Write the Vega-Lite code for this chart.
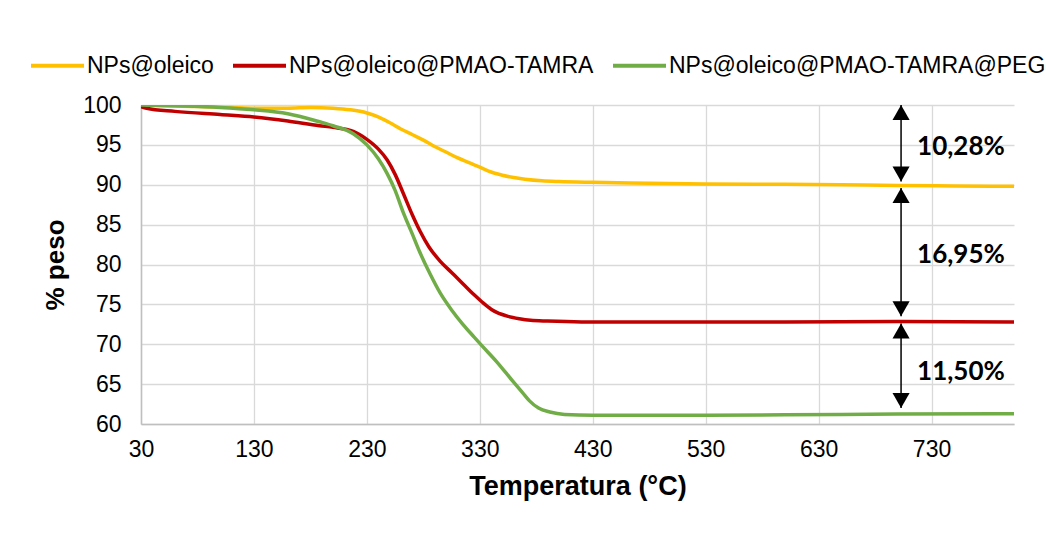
{
  "$schema": "https://vega.github.io/schema/vega-lite/v6.json",
  "width": 873,
  "height": 319,
  "autosize": {"type": "none"},
  "padding": {"left": 141, "top": 105, "right": 32, "bottom": 110},
  "background": "white",
  "config": {
    "view": {"stroke": null},
    "font": "Liberation Sans"
  },
  "datasets": {
    "tga": [
      {"T": 30, "w": 100.0, "s": "NPs@oleico"},
      {"T": 50, "w": 99.9, "s": "NPs@oleico"},
      {"T": 80, "w": 99.8, "s": "NPs@oleico"},
      {"T": 110, "w": 99.7, "s": "NPs@oleico"},
      {"T": 130, "w": 99.6, "s": "NPs@oleico"},
      {"T": 160, "w": 99.6, "s": "NPs@oleico"},
      {"T": 180, "w": 99.7, "s": "NPs@oleico"},
      {"T": 200, "w": 99.6, "s": "NPs@oleico"},
      {"T": 215, "w": 99.4, "s": "NPs@oleico"},
      {"T": 230, "w": 99.0, "s": "NPs@oleico"},
      {"T": 240, "w": 98.5, "s": "NPs@oleico"},
      {"T": 250, "w": 97.8, "s": "NPs@oleico"},
      {"T": 260, "w": 97.0, "s": "NPs@oleico"},
      {"T": 270, "w": 96.3, "s": "NPs@oleico"},
      {"T": 280, "w": 95.6, "s": "NPs@oleico"},
      {"T": 290, "w": 94.8, "s": "NPs@oleico"},
      {"T": 300, "w": 94.1, "s": "NPs@oleico"},
      {"T": 310, "w": 93.4, "s": "NPs@oleico"},
      {"T": 320, "w": 92.8, "s": "NPs@oleico"},
      {"T": 330, "w": 92.2, "s": "NPs@oleico"},
      {"T": 340, "w": 91.6, "s": "NPs@oleico"},
      {"T": 350, "w": 91.2, "s": "NPs@oleico"},
      {"T": 360, "w": 90.9, "s": "NPs@oleico"},
      {"T": 370, "w": 90.7, "s": "NPs@oleico"},
      {"T": 385, "w": 90.5, "s": "NPs@oleico"},
      {"T": 400, "w": 90.4, "s": "NPs@oleico"},
      {"T": 430, "w": 90.3, "s": "NPs@oleico"},
      {"T": 480, "w": 90.2, "s": "NPs@oleico"},
      {"T": 530, "w": 90.1, "s": "NPs@oleico"},
      {"T": 600, "w": 90.05, "s": "NPs@oleico"},
      {"T": 650, "w": 90.0, "s": "NPs@oleico"},
      {"T": 700, "w": 89.9, "s": "NPs@oleico"},
      {"T": 750, "w": 89.85, "s": "NPs@oleico"},
      {"T": 803, "w": 89.8, "s": "NPs@oleico"},

      {"T": 30, "w": 99.8, "s": "NPs@oleico@PMAO-TAMRA"},
      {"T": 35, "w": 99.6, "s": "NPs@oleico@PMAO-TAMRA"},
      {"T": 60, "w": 99.2, "s": "NPs@oleico@PMAO-TAMRA"},
      {"T": 100, "w": 98.8, "s": "NPs@oleico@PMAO-TAMRA"},
      {"T": 130, "w": 98.5, "s": "NPs@oleico@PMAO-TAMRA"},
      {"T": 160, "w": 98.0, "s": "NPs@oleico@PMAO-TAMRA"},
      {"T": 188, "w": 97.4, "s": "NPs@oleico@PMAO-TAMRA"},
      {"T": 200, "w": 97.2, "s": "NPs@oleico@PMAO-TAMRA"},
      {"T": 218, "w": 96.7, "s": "NPs@oleico@PMAO-TAMRA"},
      {"T": 230, "w": 95.7, "s": "NPs@oleico@PMAO-TAMRA"},
      {"T": 240, "w": 94.5, "s": "NPs@oleico@PMAO-TAMRA"},
      {"T": 248, "w": 93.1, "s": "NPs@oleico@PMAO-TAMRA"},
      {"T": 255, "w": 91.3, "s": "NPs@oleico@PMAO-TAMRA"},
      {"T": 262, "w": 89.0, "s": "NPs@oleico@PMAO-TAMRA"},
      {"T": 270, "w": 86.3, "s": "NPs@oleico@PMAO-TAMRA"},
      {"T": 277, "w": 84.2, "s": "NPs@oleico@PMAO-TAMRA"},
      {"T": 285, "w": 82.2, "s": "NPs@oleico@PMAO-TAMRA"},
      {"T": 295, "w": 80.4, "s": "NPs@oleico@PMAO-TAMRA"},
      {"T": 305, "w": 79.0, "s": "NPs@oleico@PMAO-TAMRA"},
      {"T": 315, "w": 77.6, "s": "NPs@oleico@PMAO-TAMRA"},
      {"T": 325, "w": 76.2, "s": "NPs@oleico@PMAO-TAMRA"},
      {"T": 332, "w": 75.3, "s": "NPs@oleico@PMAO-TAMRA"},
      {"T": 340, "w": 74.4, "s": "NPs@oleico@PMAO-TAMRA"},
      {"T": 345, "w": 74.0, "s": "NPs@oleico@PMAO-TAMRA"},
      {"T": 355, "w": 73.5, "s": "NPs@oleico@PMAO-TAMRA"},
      {"T": 365, "w": 73.2, "s": "NPs@oleico@PMAO-TAMRA"},
      {"T": 375, "w": 73.0, "s": "NPs@oleico@PMAO-TAMRA"},
      {"T": 390, "w": 72.9, "s": "NPs@oleico@PMAO-TAMRA"},
      {"T": 420, "w": 72.8, "s": "NPs@oleico@PMAO-TAMRA"},
      {"T": 500, "w": 72.8, "s": "NPs@oleico@PMAO-TAMRA"},
      {"T": 600, "w": 72.8, "s": "NPs@oleico@PMAO-TAMRA"},
      {"T": 700, "w": 72.85, "s": "NPs@oleico@PMAO-TAMRA"},
      {"T": 803, "w": 72.8, "s": "NPs@oleico@PMAO-TAMRA"},

      {"T": 30, "w": 100.0, "s": "NPs@oleico@PMAO-TAMRA@PEG"},
      {"T": 60, "w": 99.9, "s": "NPs@oleico@PMAO-TAMRA@PEG"},
      {"T": 100, "w": 99.7, "s": "NPs@oleico@PMAO-TAMRA@PEG"},
      {"T": 130, "w": 99.4, "s": "NPs@oleico@PMAO-TAMRA@PEG"},
      {"T": 160, "w": 98.9, "s": "NPs@oleico@PMAO-TAMRA@PEG"},
      {"T": 188, "w": 97.9, "s": "NPs@oleico@PMAO-TAMRA@PEG"},
      {"T": 200, "w": 97.4, "s": "NPs@oleico@PMAO-TAMRA@PEG"},
      {"T": 218, "w": 96.4, "s": "NPs@oleico@PMAO-TAMRA@PEG"},
      {"T": 230, "w": 95.0, "s": "NPs@oleico@PMAO-TAMRA@PEG"},
      {"T": 240, "w": 93.3, "s": "NPs@oleico@PMAO-TAMRA@PEG"},
      {"T": 248, "w": 91.4, "s": "NPs@oleico@PMAO-TAMRA@PEG"},
      {"T": 255, "w": 89.3, "s": "NPs@oleico@PMAO-TAMRA@PEG"},
      {"T": 262, "w": 86.6, "s": "NPs@oleico@PMAO-TAMRA@PEG"},
      {"T": 270, "w": 83.9, "s": "NPs@oleico@PMAO-TAMRA@PEG"},
      {"T": 277, "w": 81.5, "s": "NPs@oleico@PMAO-TAMRA@PEG"},
      {"T": 286, "w": 78.8, "s": "NPs@oleico@PMAO-TAMRA@PEG"},
      {"T": 295, "w": 76.4, "s": "NPs@oleico@PMAO-TAMRA@PEG"},
      {"T": 305, "w": 74.3, "s": "NPs@oleico@PMAO-TAMRA@PEG"},
      {"T": 315, "w": 72.5, "s": "NPs@oleico@PMAO-TAMRA@PEG"},
      {"T": 325, "w": 70.9, "s": "NPs@oleico@PMAO-TAMRA@PEG"},
      {"T": 332, "w": 69.8, "s": "NPs@oleico@PMAO-TAMRA@PEG"},
      {"T": 345, "w": 67.8, "s": "NPs@oleico@PMAO-TAMRA@PEG"},
      {"T": 359, "w": 65.4, "s": "NPs@oleico@PMAO-TAMRA@PEG"},
      {"T": 368, "w": 63.9, "s": "NPs@oleico@PMAO-TAMRA@PEG"},
      {"T": 374, "w": 62.9, "s": "NPs@oleico@PMAO-TAMRA@PEG"},
      {"T": 382, "w": 62.0, "s": "NPs@oleico@PMAO-TAMRA@PEG"},
      {"T": 392, "w": 61.5, "s": "NPs@oleico@PMAO-TAMRA@PEG"},
      {"T": 405, "w": 61.2, "s": "NPs@oleico@PMAO-TAMRA@PEG"},
      {"T": 430, "w": 61.1, "s": "NPs@oleico@PMAO-TAMRA@PEG"},
      {"T": 500, "w": 61.1, "s": "NPs@oleico@PMAO-TAMRA@PEG"},
      {"T": 600, "w": 61.15, "s": "NPs@oleico@PMAO-TAMRA@PEG"},
      {"T": 700, "w": 61.25, "s": "NPs@oleico@PMAO-TAMRA@PEG"},
      {"T": 803, "w": 61.3, "s": "NPs@oleico@PMAO-TAMRA@PEG"}
    ],
    "arrows": [
      {"T": 703, "w": 100, "w2": 90.4},
      {"T": 703, "w": 89.6, "w2": 73.5},
      {"T": 703, "w": 72.6, "w2": 62.0}
    ],
    "heads": [
      {"T": 703, "w": 100, "dir": "up"},
      {"T": 703, "w": 90.4, "dir": "down"},
      {"T": 703, "w": 89.6, "dir": "up"},
      {"T": 703, "w": 73.5, "dir": "down"},
      {"T": 703, "w": 72.6, "dir": "up"},
      {"T": 703, "w": 62.0, "dir": "down"}
    ],
    "labels": [
      {"T": 756, "w": 94.7, "txt": "10,28%"},
      {"T": 756, "w": 81.2, "txt": "16,95%"},
      {"T": 756, "w": 66.5, "txt": "11,50%"}
    ]
  },
  "encoding": {
    "x": {
      "field": "T", "type": "quantitative",
      "scale": {"domain": [30, 803], "nice": false, "zero": false},
      "axis": {
        "values": [30, 130, 230, 330, 430, 530, 630, 730],
        "title": "Temperatura (°C)",
        "titleFont": "Liberation Sans", "titleFontSize": 27, "titleFontWeight": "bold", "titleColor": "#000000",
        "titlePadding": 12,
        "labelFont": "Liberation Sans", "labelFontSize": 23, "labelColor": "#000000", "labelPadding": 14,
        "labelFlush": false, "labelOverlap": false,
        "ticks": false,
        "domainColor": "#bfbfbf", "domainWidth": 1.5,
        "grid": true, "gridColor": "#d9d9d9", "gridWidth": 1.3
      }
    },
    "y": {
      "field": "w", "type": "quantitative",
      "scale": {"domain": [60, 100], "nice": false, "zero": false},
      "axis": {
        "values": [60, 65, 70, 75, 80, 85, 90, 95, 100],
        "title": "% peso",
        "titleFont": "Liberation Sans", "titleFontSize": 26, "titleFontWeight": "bold", "titleColor": "#000000",
        "titlePadding": 14,
        "labelFont": "Liberation Sans", "labelFontSize": 23, "labelColor": "#000000", "labelPadding": 20,
        "labelOverlap": false, "labelFlush": false,
        "ticks": false,
        "domainColor": "#bfbfbf", "domainWidth": 1.5,
        "grid": true, "gridColor": "#d9d9d9", "gridWidth": 1.3
      }
    }
  },
  "layer": [
    {
      "data": {"name": "tga"},
      "mark": {"type": "line", "strokeWidth": 3.5, "interpolate": "monotone", "clip": true},
      "encoding": {
        "color": {
          "field": "s", "type": "nominal",
          "scale": {
            "domain": ["NPs@oleico", "NPs@oleico@PMAO-TAMRA", "NPs@oleico@PMAO-TAMRA@PEG"],
            "range": ["#FFC000", "#C00000", "#70AD47"]
          },
          "legend": {
            "title": null,
            "orient": "none",
            "direction": "horizontal",
            "legendX": -112,
            "legendY": -68,
            "symbolType": "stroke",
            "symbolSize": 2809,
            "symbolStrokeWidth": 4,
            "labelFont": "Liberation Sans",
            "labelFontSize": 23,
            "labelColor": "#000000",
            "labelOffset": 1,
            "labelLimit": 500,
            "columnPadding": 11
          }
        }
      }
    },
    {
      "data": {"name": "arrows"},
      "mark": {"type": "rule", "color": "#000000", "strokeWidth": 1.5},
      "encoding": {
        "y2": {"field": "w2"}
      }
    },
    {
      "data": {"name": "heads"},
      "mark": {"type": "point", "filled": true, "color": "#000000", "opacity": 1, "size": 900, "strokeWidth": 0},
      "encoding": {
        "shape": {
          "field": "dir", "type": "nominal",
          "scale": {"domain": ["up", "down"], "range": ["M0,0L-0.57,1L0.57,1Z", "M0,0L-0.57,-1L0.57,-1Z"]},
          "legend": null
        }
      }
    },
    {
      "data": {"name": "labels"},
      "mark": {"type": "text", "font": "Lato", "fontWeight": "bold", "fontSize": 26, "color": "#000000", "align": "center", "baseline": "middle"},
      "encoding": {
        "text": {"field": "txt"}
      }
    }
  ]
}
